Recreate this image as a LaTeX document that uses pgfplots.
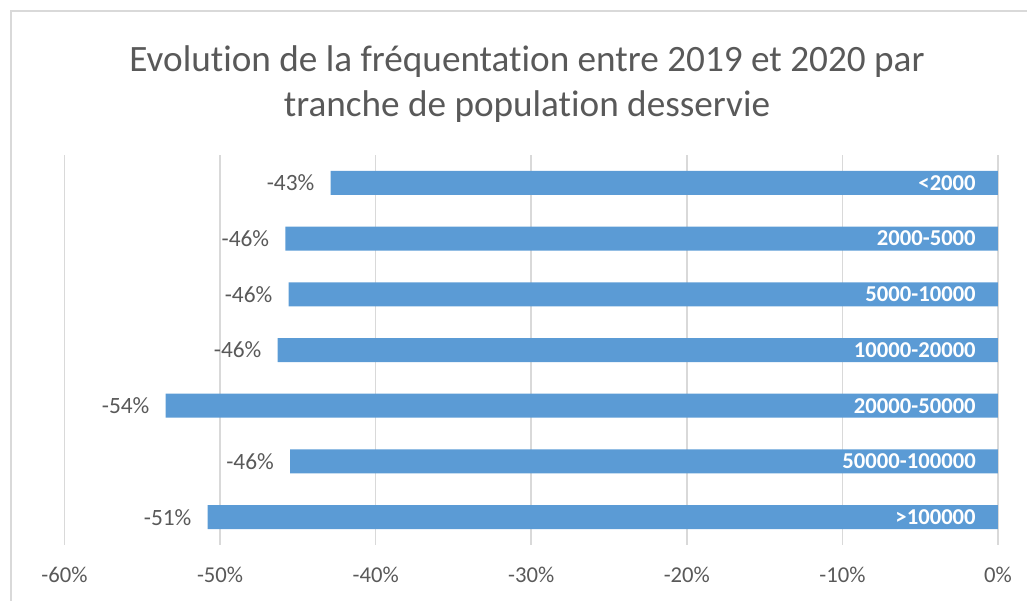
\documentclass[border=0pt]{standalone}
\usepackage{pgfplots}
\pgfplotsset{compat=1.18}
\usepackage{pgfplotstable}
\usepackage{fontspec}
\setmainfont{Carlito}[Ligatures=NoCommon]
\definecolor{barblue}{HTML}{5B9BD5}
\definecolor{gridgray}{HTML}{D9D9D9}
\definecolor{txtgray}{HTML}{595959}
\pgfplotstableread{
y x lab
1 -42.9 -43
2 -45.8 -46
3 -45.6 -46
4 -46.3 -46
5 -53.5 -54
6 -45.5 -46
7 -50.8 -51
}\datatable
\pgfplotstableread{
y x cat
1 0 <2000
2 0 2000-5000
3 0 5000-10000
4 0 10000-20000
5 0 20000-50000
6 0 50000-100000
7 0 >100000
}\cattable
\begin{document}
\begin{tikzpicture}
\useasboundingbox (0,0) rectangle (770.25pt,450pt);
\draw[gridgray, line width=1pt] (8.25pt,441.75pt) rectangle (790pt,-20pt);
\node[text=txtgray, font=\fontsize{27.9}{33.75}\selectfont, align=center, anchor=center] at (395.25pt,386.75pt)
  {Evolution de la fréquentation entre 2019 et 2020 par\\tranche de population desservie};
\begin{axis}[
  at={(48.375pt,41.25pt)}, anchor=south west,
  width=700.1pt, height=292.5pt, scale only axis,
  bar width=18pt,
  xmin=-60, xmax=0, ymin=0.5, ymax=7.5, y dir=reverse,
  xtick={-60,-50,-40,-30,-20,-10,0},
  xticklabels={-60\%,-50\%,-40\%,-30\%,-20\%,-10\%,0\%},
  ytick=\empty,
  xticklabel style={text=txtgray, font=\fontsize{17}{20}\selectfont, inner sep=0pt, yshift=-16pt},
  xmajorgrids, major grid style={gridgray, line width=1.2pt},
  axis line style={draw=none},
  tick style={draw=none},
  clip=false,
]
\addplot[xbar, fill=barblue, draw=none,
  nodes near coords={\pgfplotspointmeta\%},
  point meta=explicit symbolic,
  every node near coord/.append style={anchor=east, inner sep=0pt, xshift=-12pt, text=txtgray, font=\fontsize{17.5}{20}\selectfont}]
  table[x=x, y=y, meta=lab] {\datatable};
\addplot[draw=none, mark=none,
  nodes near coords={\pgfplotspointmeta},
  point meta=explicit symbolic,
  every node near coord/.append style={anchor=east, inner sep=0pt, xshift=-16.5pt, text=white, font=\fontsize{17}{20}\selectfont\bfseries}]
  table[x=x, y=y, meta=cat] {\cattable};
\end{axis}
\end{tikzpicture}
\end{document}
